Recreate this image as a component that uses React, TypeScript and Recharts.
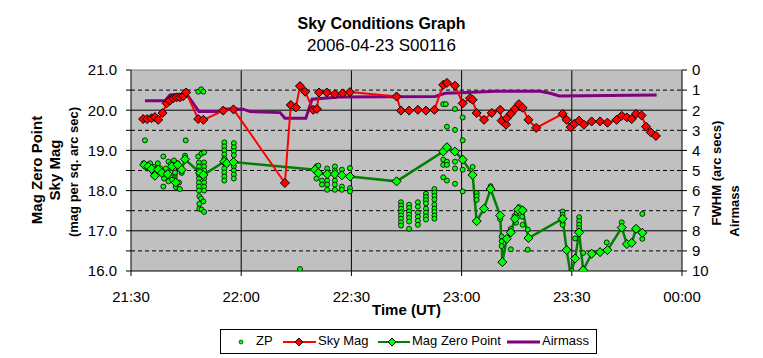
import { CartesianGrid, ComposedChart, Line, ReferenceLine, Scatter, XAxis, YAxis } from "recharts";

// time is minutes after 21:00 UT
const timeTicks = [30, 60, 90, 120, 150, 180];
const timeLabels = ["21:30", "22:00", "22:30", "23:00", "23:30", "00:00"];
const magTicks = [16, 16.5, 17, 17.5, 18, 18.5, 19, 19.5, 20, 20.5, 21];
const fwhmTicks = [0, 1, 2, 3, 4, 5, 6, 7, 8, 9, 10];
const solidMagGrid = [17, 18, 19, 20];
const dashedMagGrid = [16.5, 17.5, 18.5, 19.5, 20.5];
const timeGrid = [60, 90, 120, 150];

const skyMag: [number, number][] = [
  [33.3, 19.78], [34.4, 19.78], [35.6, 19.8], [36.5, 19.83], [37.4, 19.76], [38.6, 19.93],
  [39.7, 20.17], [40.6, 20.24], [41.5, 20.3], [42.4, 20.32], [43.3, 20.32], [44.2, 20.35],
  [45.0, 20.44], [48.3, 19.78], [49.7, 19.76], [55.1, 19.99], [57.9, 20.02], [71.9, 18.19],
  [73.5, 20.13], [74.9, 20.07], [76.0, 20.6], [77.4, 20.46], [79.6, 20.01], [80.6, 20.03],
  [81.2, 20.44], [83.3, 20.44], [85.5, 20.4], [87.6, 20.42], [89.6, 20.45], [102.3, 20.34],
  [103.5, 19.99], [105.7, 19.99], [108.1, 20.01], [110.3, 19.99], [112.6, 20.01], [115.0, 20.63],
  [116.0, 20.68], [118.2, 20.61], [120.3, 20.17], [122.3, 20.3], [123.0, 20.26], [124.1, 19.93],
  [126.1, 19.76], [128.2, 19.93], [130.5, 20.01], [130.9, 19.74], [132.1, 19.64], [132.3, 19.8],
  [133.4, 19.91], [134.5, 20.03], [135.6, 20.15], [136.6, 20.06], [138.2, 19.76], [140.3, 19.56],
  [147.5, 19.91], [148.6, 19.76], [149.7, 19.58], [150.7, 19.66], [152.0, 19.74], [153.3, 19.64],
  [155.4, 19.72], [157.7, 19.72], [159.7, 19.69], [162.2, 19.76], [163.6, 19.86], [165.0, 19.82],
  [166.3, 19.78], [167.5, 19.91], [169.0, 19.87], [170.2, 19.59], [171.5, 19.45], [172.9, 19.36],
];

const magZeroPoint: [number, number][] = [
  [33.6, 18.64], [34.7, 18.6], [35.6, 18.54], [36.5, 18.37], [37.4, 18.52], [38.4, 18.44],
  [40.0, 18.41], [41.2, 18.6], [42.2, 18.2], [42.7, 18.64], [43.8, 18.52], [44.7, 18.78],
  [48.8, 18.44], [49.7, 18.39], [55.4, 18.72], [56.1, 18.68], [57.9, 18.71], [80.1, 18.52],
  [81.0, 18.44], [83.4, 18.41], [85.5, 18.41], [87.4, 18.38], [89.6, 18.35], [102.3, 18.23],
  [115.0, 18.97], [116.0, 19.08], [118.2, 18.97], [120.3, 18.77], [123.0, 18.39], [124.1, 17.24],
  [126.1, 17.55], [127.9, 18.04], [130.5, 17.38], [131.1, 16.22], [132.3, 16.8], [133.4, 16.96],
  [134.5, 17.3], [135.4, 17.53], [136.6, 17.51], [138.2, 16.82], [147.5, 17.3], [148.6, 16.52],
  [149.7, 15.91], [150.9, 16.31], [152.0, 16.96], [153.1, 16.02], [155.4, 16.43], [157.7, 16.47],
  [159.7, 16.52], [163.6, 17.08], [165.0, 16.67], [166.3, 16.7], [167.5, 17.05], [169.2, 16.95],
];

const airmass: [number, number][] = [
  [33.8, 1.53], [39.3, 1.53], [40.6, 1.24], [45.2, 1.21], [48.5, 2.07], [54.8, 2.07],
  [55.6, 1.94], [60.5, 1.95], [62.4, 2.07], [70.6, 2.12], [71.9, 2.4], [77.6, 2.4],
  [79.3, 1.45], [86.9, 1.34], [112.8, 1.32], [115.5, 1.16], [121.5, 1.12], [129.1, 1.06],
  [141.4, 1.06], [144.1, 1.16], [146.6, 1.29], [173.1, 1.24],
];

const zp: [number, number][] = [
  [33.4, 18.68], [33.8, 19.25], [35.2, 18.68], [36.1, 18.59], [37.3, 18.68], [37.9, 18.56],
  [38.8, 18.85], [38.8, 18.1], [40.2, 18.72], [40.6, 18.35], [40.2, 18.23], [41.2, 18.27],
  [42.2, 18.09], [43.1, 18.2], [43.3, 18.04], [43.8, 18.44], [42.7, 18.68], [44.7, 18.87],
  [44.9, 19.25], [34.5, 18.55], [36.0, 18.45], [39.5, 18.55], [40.8, 18.65], [41.7, 18.75],
  [43.0, 18.55], [42.0, 18.45], [39.0, 18.3], [36.9, 18.5],
  [48.3, 20.46], [49.1, 20.52], [49.7, 20.46],
  [48.3, 18.85], [49.2, 18.92], [49.9, 18.95],
  [48.5, 18.7], [48.5, 18.6], [48.5, 18.5], [48.5, 18.4], [48.5, 18.3], [48.5, 18.2], [48.5, 18.1], [48.5, 18.0],
  [49.9, 18.7], [49.9, 18.6], [49.9, 18.5], [49.9, 18.4], [49.9, 18.3], [49.9, 18.2], [49.9, 18.1], [49.9, 18.0],
  [48.6, 17.86], [49.1, 17.8], [49.7, 17.73], [48.6, 17.67], [48.6, 17.55], [49.2, 17.53], [49.9, 17.47],
  [55.4, 19.2], [55.4, 19.1], [55.4, 19.0], [55.4, 18.9], [55.4, 18.8], [55.4, 18.55], [55.4, 18.45], [55.4, 18.35], [55.4, 18.25],
  [58.0, 19.18], [58.0, 19.08], [58.0, 18.98], [58.0, 18.88], [58.0, 18.6], [58.0, 18.5], [58.0, 18.4], [58.0, 18.3],
  [80.5, 18.6], [80.5, 18.3], [81.0, 18.62], [82.0, 18.25], [82.0, 18.15], [83.4, 18.55], [83.4, 18.25],
  [83.4, 18.15], [83.4, 18.02], [85.5, 18.6], [85.5, 18.5], [85.5, 18.25], [85.5, 18.15], [85.5, 18.02],
  [87.4, 18.52], [87.4, 18.1], [87.4, 18.02], [89.6, 18.56], [89.6, 18.06], [89.6, 17.98],
  [76.0, 16.05],
  [103.5, 17.71], [103.5, 17.63], [103.5, 17.55], [103.5, 17.46], [103.5, 17.38], [103.5, 17.3], [103.5, 17.21], [103.5, 17.13],
  [105.7, 17.65], [105.7, 17.57], [105.7, 17.48], [105.7, 17.4], [105.7, 17.32], [105.7, 17.23], [105.7, 17.05],
  [108.1, 17.71], [108.1, 17.6], [108.1, 17.45], [108.1, 17.35], [108.1, 17.25], [108.1, 17.15],
  [110.3, 17.92], [110.3, 17.84], [110.3, 17.76], [110.3, 17.68], [110.3, 17.55], [110.3, 17.45], [110.3, 17.36], [110.3, 17.28],
  [112.6, 18.04], [112.6, 17.95], [112.6, 17.87], [112.6, 17.78], [112.6, 17.65], [112.6, 17.55], [112.6, 17.47], [112.6, 17.38], [112.6, 17.3],
  [115.0, 20.15], [115.7, 20.15], [118.2, 20.03], [120.3, 19.82], [116.0, 19.59], [118.2, 19.51], [120.3, 19.25],
  [115.0, 18.77], [116.0, 18.72], [115.0, 18.64], [116.0, 18.64], [118.2, 18.72], [118.2, 18.55],
  [115.0, 18.33], [116.0, 18.25], [118.2, 18.17], [120.3, 18.52], [120.3, 17.98],
  [123.0, 18.59], [124.1, 17.94], [124.1, 17.86], [124.1, 17.77], [127.9, 18.11], [130.5, 17.29],
  [130.9, 16.86], [130.9, 16.74], [130.9, 16.62], [133.4, 16.54], [135.6, 17.59], [135.6, 17.52],
  [134.4, 17.37], [134.4, 17.29], [136.6, 17.15], [138.0, 17.03], [138.0, 16.53],
  [135.0, 17.45], [136.0, 17.42], [136.5, 17.35], [134.8, 17.2], [133.4, 17.05],
  [147.5, 17.48], [147.5, 17.4], [147.5, 17.2], [147.5, 17.15], [152.0, 17.34], [152.0, 17.24],
  [152.0, 17.15], [152.0, 17.07], [150.9, 16.81], [153.1, 16.45], [159.5, 16.71], [163.6, 17.21],
  [169.2, 17.42], [169.2, 16.8], [149.9, 16.0], [153.3, 16.0],
];

const toPoints = (rows: [number, number][]) => rows.map(([t, v]) => ({ t, v }));

const font = "'Liberation Sans', Arial, sans-serif";

const diamond = (fill: string, r: number) => (p: any) => {
  const { cx, cy, index } = p;
  if (cx == null || cy == null) return <g key={index} />;
  return (
    <path
      key={index}
      d={`M${cx},${cy - r}L${cx + r},${cy}L${cx},${cy + r}L${cx - r},${cy}Z`}
      fill={fill}
      stroke="#000"
      strokeWidth={1}
    />
  );
};

const zpDot = (p: any) => <circle cx={p.cx} cy={p.cy} r={2.5} fill="#00ff00" stroke="#000" strokeWidth={0.8} />;

const axisTick = { fill: "#000", fontSize: 15, fontFamily: font };

function Rotated({ x, y, angle, size, children }: { x: number; y: number; angle: number; size: number; children: string }) {
  return (
    <div
      style={{
        position: "absolute",
        left: x,
        top: y,
        transform: `translate(-50%, -50%) rotate(${angle}deg)`,
        whiteSpace: "nowrap",
        fontWeight: "bold",
        fontSize: size,
        fontFamily: font,
      }}
    >
      {children}
    </div>
  );
}

function LegendBox() {
  const text = { position: "absolute" as const, top: 3, fontSize: 13, fontFamily: font };
  return (
    <div
      style={{
        position: "absolute",
        left: 220,
        top: 329,
        width: 375,
        height: 23,
        border: "1px solid #000",
        background: "#fff",
      }}
    >
      <svg width={375} height={23} style={{ position: "absolute", left: 0, top: 0 }}>
        <circle cx={20} cy={12} r={2} fill="#00ff00" stroke="#000" strokeWidth={0.6} />
        <line x1={62} y1={12} x2={95} y2={12} stroke="#ff0000" strokeWidth={2} />
        <path d="M78,8L82,12L78,16L74,12Z" fill="#ff0000" stroke="#000" />
        <line x1={157} y1={12} x2={189} y2={12} stroke="#008000" strokeWidth={2} />
        <path d="M171,8L175,12L171,16L167,12Z" fill="#00ff00" stroke="#000" />
        <line x1={286} y1={12} x2={319} y2={12} stroke="#800080" strokeWidth={3} />
      </svg>
      <span style={{ ...text, left: 35 }}>ZP</span>
      <span style={{ ...text, left: 97 }}>Sky Mag</span>
      <span style={{ ...text, left: 191 }}>Mag Zero Point</span>
      <span style={{ ...text, left: 321 }}>Airmass</span>
    </div>
  );
}

export default function App() {
  return (
    <div style={{ position: "absolute", left: 0, top: 0, width: 763, height: 358, background: "#fff", fontFamily: font }}>
      <div style={{ position: "absolute", left: 0, width: 763, top: 15, textAlign: "center", fontWeight: "bold", fontSize: 16 }}>
        Sky Conditions Graph
      </div>
      <div style={{ position: "absolute", left: 0, width: 763, top: 36, textAlign: "center", fontSize: 17 }}>
        2006-04-23 S00116
      </div>

      <ComposedChart width={763} height={358} margin={{ top: 70, right: 0, bottom: 0, left: 0 }} style={{ position: "absolute", left: 0, top: 0 }}>
        <CartesianGrid yAxisId="mag" fill="#c0c0c0" horizontal={false} vertical={false} />
        <XAxis
          dataKey="t"
          type="number"
          domain={[30, 180]}
          ticks={timeTicks}
          tickFormatter={(v: number) => timeLabels[timeTicks.indexOf(v)] ?? ""}
          height={87}
          tickSize={5}
          tickMargin={15}
          tick={axisTick}
          stroke="#000"
          interval={0}
          allowDataOverflow
        />
        <YAxis
          yAxisId="mag"
          type="number"
          domain={[16, 21]}
          ticks={magTicks}
          tickFormatter={(v: number) => (Number.isInteger(v) ? v.toFixed(1) : "")}
          width={131}
          tickSize={5}
          tickMargin={9}
          tick={axisTick}
          stroke="#000"
          interval={0}
          allowDataOverflow
        />
        <YAxis
          yAxisId="fwhm"
          orientation="right"
          type="number"
          domain={[0, 10]}
          reversed
          ticks={fwhmTicks}
          width={81}
          tickSize={5}
          tickMargin={5}
          tick={axisTick}
          stroke="#000"
          interval={0}
          allowDataOverflow
        />
        {dashedMagGrid.map((v) => (
          <ReferenceLine key={`d${v}`} yAxisId="mag" y={v} stroke="#000" strokeDasharray="4 3" />
        ))}
        {solidMagGrid.map((v) => (
          <ReferenceLine key={`s${v}`} yAxisId="mag" y={v} stroke="#000" />
        ))}
        {timeGrid.map((t) => (
          <ReferenceLine key={`t${t}`} yAxisId="mag" x={t} stroke="#000" />
        ))}
        <ReferenceLine yAxisId="mag" y={21} stroke="#808080" />

        <Line
          yAxisId="fwhm"
          data={toPoints(airmass)}
          dataKey="v"
          type="linear"
          stroke="#800080"
          strokeWidth={3}
          dot={false}
          isAnimationActive={false}
        />
        <Scatter yAxisId="mag" data={toPoints(zp)} dataKey="v" shape={zpDot} isAnimationActive={false} />
        <Line
          yAxisId="mag"
          data={toPoints(magZeroPoint)}
          dataKey="v"
          type="linear"
          stroke="#008000"
          strokeWidth={2.5}
          dot={diamond("#00ff00", 4.5)}
          isAnimationActive={false}
        />
        <Line
          yAxisId="mag"
          data={toPoints(skyMag)}
          dataKey="v"
          type="linear"
          stroke="#ff0000"
          strokeWidth={2}
          dot={diamond("#ff0000", 4.5)}
          isAnimationActive={false}
        />
      </ComposedChart>

      <Rotated x={36} y={170} angle={-90} size={15}>Mag Zero Point</Rotated>
      <Rotated x={54} y={170} angle={-90} size={15}>Sky Mag</Rotated>
      <Rotated x={73} y={172} angle={-90} size={13}>(mag per sq. arc sec)</Rotated>
      <Rotated x={716} y={173} angle={-90} size={13}>FWHM (arc secs)</Rotated>
      <Rotated x={734} y={211} angle={-90} size={13}>Airmass</Rotated>
      <div style={{ position: "absolute", left: 131, width: 551, top: 301, textAlign: "center", fontWeight: "bold", fontSize: 15 }}>
        Time (UT)
      </div>
      <LegendBox />
    </div>
  );
}
